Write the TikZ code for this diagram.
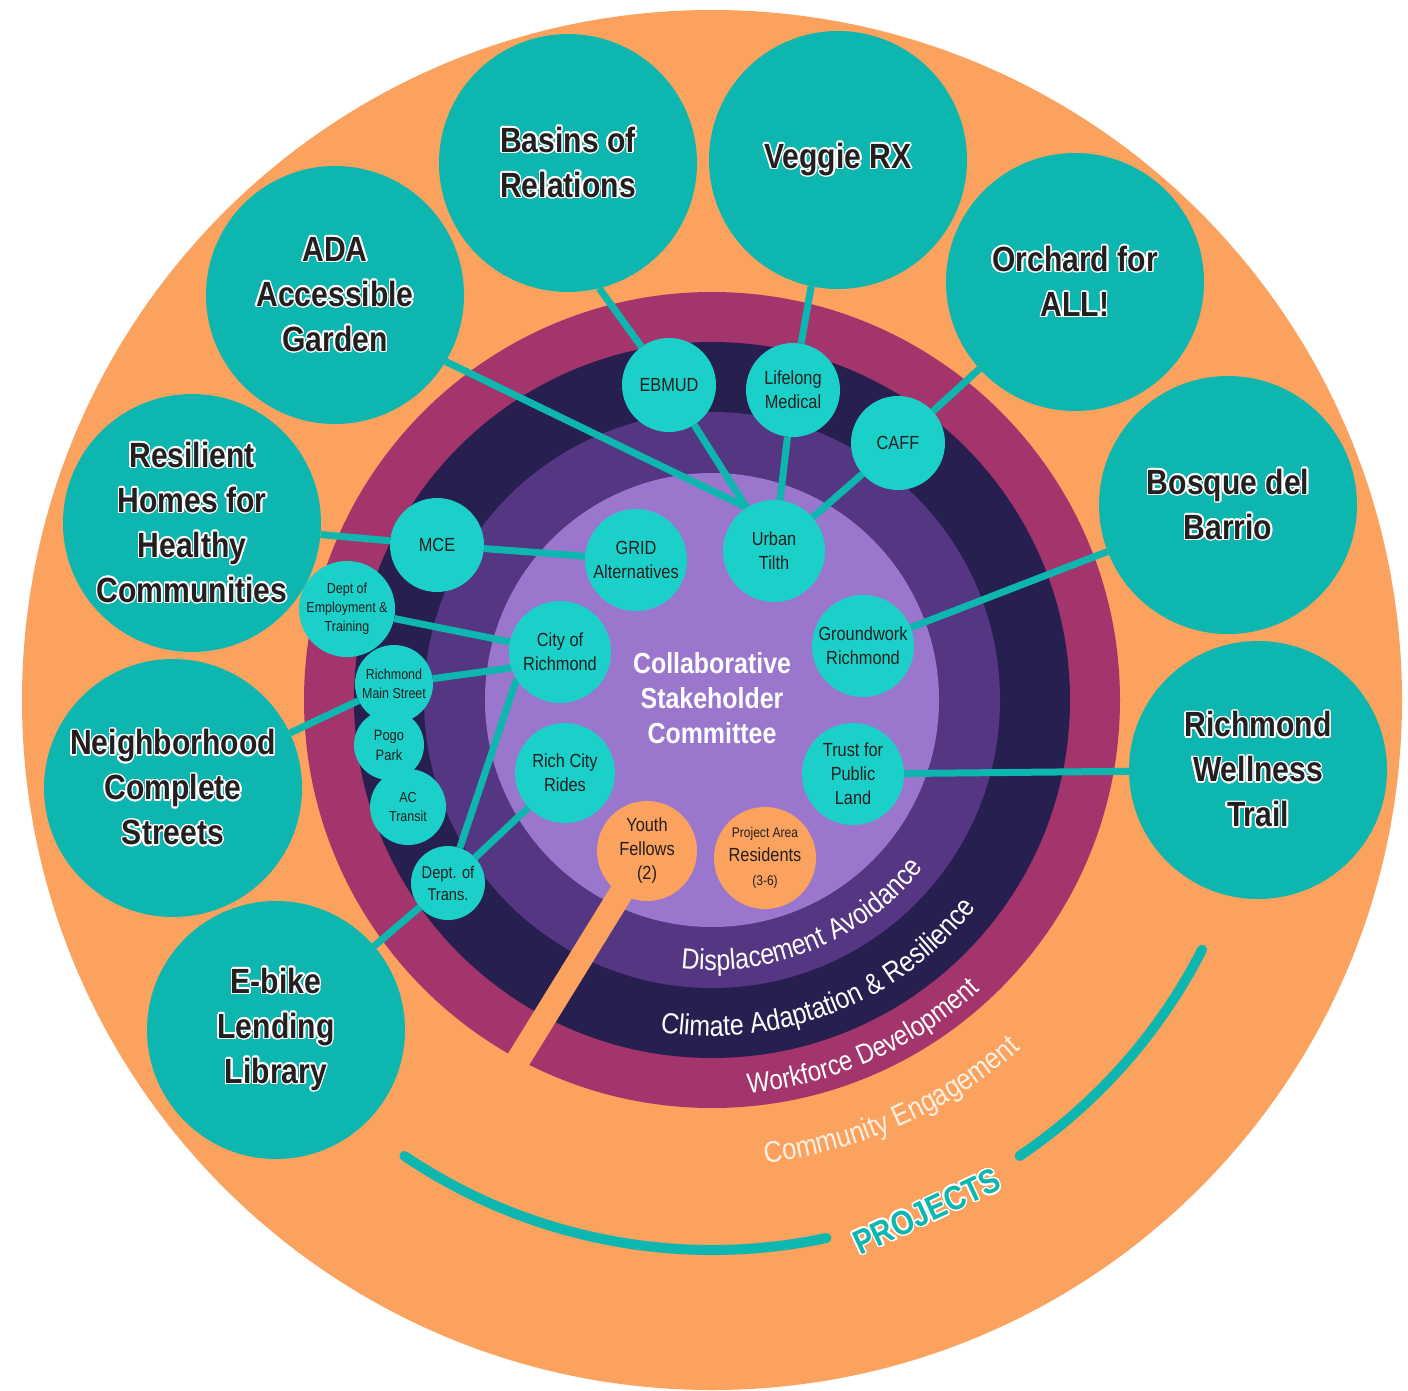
\documentclass[tikz,border=0pt]{standalone}
\usepackage{fontspec}
\setmainfont{Liberation Sans}
\newfontfamily\cf[FakeStretch=0.86]{Liberation Sans}
\IfFileExists{contour.sty}{\usepackage{contour}\contourlength{1.5pt}\contournumber{16}}{\newcommand\contour[2]{#2}}
\usetikzlibrary{decorations.text}
\definecolor{orng}{HTML}{FBA25E}
\definecolor{magn}{HTML}{A3356C}
\definecolor{navy}{HTML}{261F50}
\definecolor{purp}{HTML}{553682}
\definecolor{lpurp}{HTML}{9A77CD}
\definecolor{tealA}{HTML}{0DB6AE}
\definecolor{tealB}{HTML}{1BD0C8}
\definecolor{tdark}{HTML}{231F20}
\definecolor{cream}{HTML}{FFF0E2}
\pgfdeclarelayer{bg}
\pgfdeclarelayer{lines}
\pgfsetlayers{bg,lines,main}
\newcommand\wo[1]{\contour{white}{#1}}
\begin{document}
\begin{tikzpicture}[x=1pt,y=-1pt,
  bignode/.style={circle, fill=tealA, minimum size=258pt, inner sep=0pt, align=center, text=tdark,
    font=\cf\bfseries\fontsize{35}{45}\selectfont},
  smallnode/.style={circle, fill=tealB, minimum size=#1, inner sep=0pt, align=center, text=tdark,
    font=\cf\fontsize{19}{24}\selectfont},
  smallnode/.default=94pt,
  orgnode/.style={smallnode=#1, fill=orng},
  orgnode/.default=100pt,
  tiny/.style={font=\cf\fontsize{14.5}{19}\selectfont},
  conn/.style={draw=tealA, line width=7pt},
  ringtext/.style={decorate, decoration={text along path, text align=center, text color=#1}},
  ringtext/.default=white,
  projarc/.style={draw=tealA, line width=10pt, line cap=round}]
\useasboundingbox (0,0) rectangle (1408,1390);

\begin{pgfonlayer}{bg}
\fill[white] (0,0) rectangle (1408,1390);
\fill[orng] (712,700) circle[radius=690pt];
\fill[magn] (712,700) circle[radius=408pt];
\fill[navy] (712,700) circle[radius=358pt];
\fill[purp] (712,700) circle[radius=288pt];
\fill[lpurp] (712,700) circle[radius=227pt];
% ring labels
\path[ringtext, decoration={text={|\cf\fontsize{29}{30}\selectfont|Displacement Avoidance}}]
  (712,700) ++(108:270) arc[start angle=-108, end angle=-27, radius=270pt];
\path[ringtext, decoration={text={|\cf\fontsize{29}{30}\selectfont|Climate Adaptation {\&} Resilience}}]
  (712,700) ++(110:336) arc[start angle=-110, end angle=-27, radius=336pt];
\path[ringtext, decoration={text={|\cf\fontsize{28}{30}\selectfont|Workforce Development}}]
  (712,700) ++(106:395) arc[start angle=-106, end angle=-26, radius=395pt];
\path[ringtext=cream, decoration={text={|\cf\fontsize{30}{32}\selectfont|Community Engagement}}]
  (712,700) ++(106:466) arc[start angle=-106, end angle=-26, radius=466pt];
% projects arcs
\draw[projarc] (712,700) ++(124:550) arc[start angle=-124, end angle=-78, radius=550pt];
\draw[projarc] (712,700) ++(56:550) arc[start angle=-56, end angle=-27, radius=550pt];
\end{pgfonlayer}

% center label
\node[font=\cf\bfseries\fontsize{29}{35}\selectfont, text=white, align=center] (csc) at (712,698)
  {Collaborative\\Stakeholder\\Committee};
\node[rotate=25, font=\cf\bfseries\fontsize{34}{34}\selectfont, text=tealA] (proj) at (927,1212)
  {\wo{PROJECTS}};

% big project nodes
\node[bignode] (bas) at (568,163) {\wo{Basins of}\\\wo{Relations}};
\node[bignode] (veg) at (838,160) {\wo{Veggie RX}};
\node[bignode] (orc) at (1075,282) {\wo{Orchard for}\\\wo{ALL!}};
\node[bignode] (bos) at (1228,505) {\wo{Bosque del}\\\wo{Barrio}};
\node[bignode] (rwt) at (1258,770) {\wo{Richmond}\\\wo{Wellness}\\\wo{Trail}};
\node[bignode] (ebk) at (276,1030) {\wo{E-bike}\\\wo{Lending}\\\wo{Library}};
\node[bignode] (nbr) at (173,788) {\wo{Neighborhood}\\\wo{Complete}\\\wo{Streets}};
\node[bignode] (res) at (192,523) {\wo{Resilient}\\\wo{Homes for}\\\wo{Healthy}\\\wo{Communities}};
\node[bignode] (ada) at (335,295) {\wo{ADA}\\\wo{Accessible}\\\wo{Garden}};

% small stakeholder nodes
\node[smallnode] (ebm) at (669,385) {EBMUD};
\node[smallnode] (lif) at (793,390) {Lifelong\\Medical};
\node[smallnode] (caff) at (898,443) {CAFF};
\node[smallnode=102pt] (ut) at (774,551) {Urban\\Tilth};
\node[smallnode=102pt] (gw) at (863,646) {Groundwork\\Richmond};
\node[smallnode] (mce) at (437,545) {MCE};
\node[smallnode=102pt] (grid) at (636,560) {GRID\\Alternatives};
\node[smallnode=90pt, tiny] (det) at (347,609) {Dept of\\Employment \&\\Training};
\node[smallnode=102pt] (city) at (560,652) {City of\\Richmond};
\node[smallnode=78pt, tiny] (rms) at (394,684) {Richmond\\Main Street};
\node[smallnode=70pt, font=\cf\fontsize{15}{20}\selectfont] (pogo) at (389,745) {Pogo\\Park};
\node[smallnode=76pt, tiny] (act) at (408,807) {AC\\Transit};
\node[smallnode=74pt, font=\cf\fontsize{17}{22}\selectfont] (dot) at (448,883) {Dept. of\\Trans.};
\node[smallnode=100pt] (rcr) at (565,773) {Rich City\\Rides};
\node[smallnode=102pt] (tpl) at (853,774) {Trust for\\Public\\Land};
\node[orgnode] (yf) at (647,851) {Youth\\Fellows\\(2)};
\node[orgnode=102pt] (par) at (765,858)
  {{\fontsize{14}{16}\selectfont Project Area}\\Residents\\{\fontsize{14}{16}\selectfont (3-6)}};

\coordinate (yfend) at (512,1070);

\begin{pgfonlayer}{lines}
\draw[orng, line width=24pt] (yf.center) -- (yfend);
\draw[conn] (bas.-76) -- (ebm);
\draw[conn] (ebm) -- (ut);
\draw[conn] (veg.-102) -- (lif);
\draw[conn] (lif) -- (ut);
\draw[conn] (orc) -- (caff);
\draw[conn] (caff) -- (ut);
\draw[conn] (ada.-31) -- (ut.122);
\draw[conn] (res) -- (mce);
\draw[conn] (mce) -- (grid);
\draw[conn] (det) -- (city);
\draw[conn] (rms) -- (city.198);
\draw[conn] (nbr) -- (rms);
\draw[conn] (city.-148) -- (dot);
\draw[conn] (rcr) -- (dot);
\draw[conn] (dot) -- (ebk);
\draw[conn] (bos) -- (gw);
\draw[conn] (rwt) -- (tpl);
\end{pgfonlayer}
\end{tikzpicture}
\end{document}
